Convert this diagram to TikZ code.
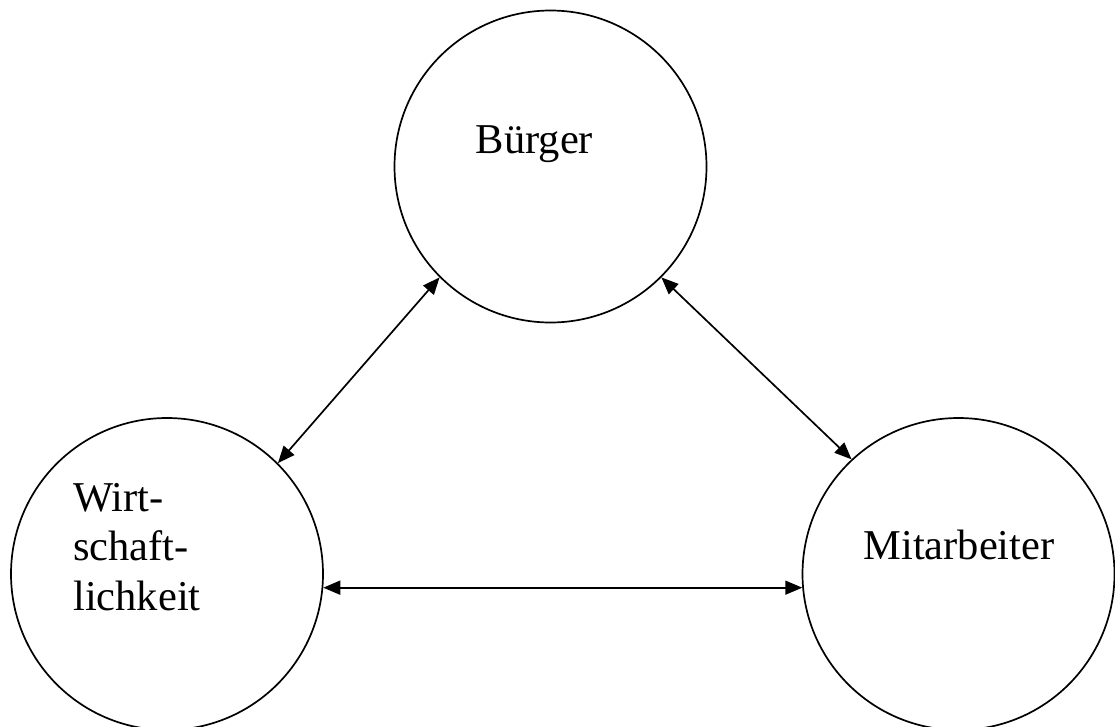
\documentclass[tikz,border=0pt]{standalone}
\usepackage{fontspec}
\setmainfont{Liberation Serif}
\usetikzlibrary{arrows.meta}
\begin{document}
\begin{tikzpicture}[x=1pt,y=-1pt,
  ring/.style={draw,circle,line width=1.7pt,minimum size=312pt,inner sep=0pt},
  lbl/.style={inner sep=0pt,font=\fontsize{42.5}{50}\selectfont},
  link/.style={line width=1.7pt,{Triangle[length=17pt,width=14pt]}-{Triangle[length=17pt,width=14pt]}}]
\useasboundingbox (0,0) rectangle (1115,726);
\node[ring] (top) at (550.5,166.5) {};
\node[ring] (left) at (167,574) {};
\node[ring] (right) at (958.5,574) {};
\node[lbl,anchor=base] (tb) at (534.5,153) {Bürger};
\node[lbl,anchor=base] (tm) at (959,559) {Mitarbeiter};
\node[lbl,anchor=base west] (w1) at (73,511) {Wirt-};
\node[lbl,anchor=base west] (w2) at (73,560) {schaft-};
\node[lbl,anchor=base west] (w3) at (73,610) {lichkeit};
\draw[link] (left.45) -- (top.225);
\draw[link] (top.315) -- (right.133);
\draw[link] (left.-5) -- (right.185);
\end{tikzpicture}
\end{document}
